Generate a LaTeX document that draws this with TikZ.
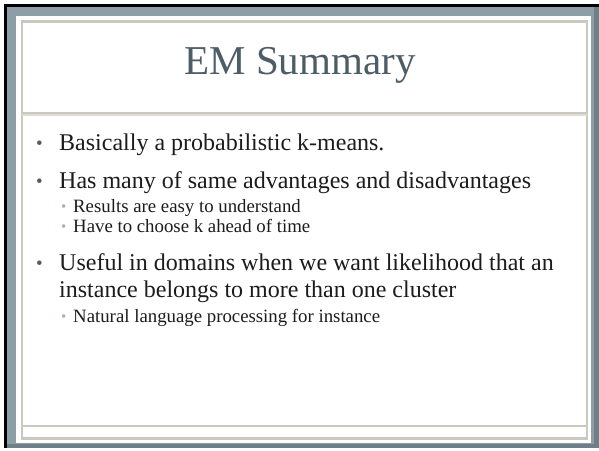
\documentclass[tikz,border=0pt]{standalone}
\usepackage{fontspec}
\setmainfont{Liberation Serif}
\definecolor{framegray}{HTML}{8D9EA7}
\definecolor{framedark}{HTML}{6E7F88}
\definecolor{rulebeige}{HTML}{C9C9BF}
\definecolor{rulelight}{HTML}{DCDCD4}
\definecolor{titlecol}{HTML}{4D5D68}
\definecolor{bodycol}{HTML}{1C1C1C}
\definecolor{subbullet}{HTML}{A3B2BA}
\tikzset{
  titletext/.style={font=\fontsize{41}{48}\selectfont, text=titlecol, inner sep=0pt},
  maintext/.style={font=\fontsize{24}{28}\selectfont, text=bodycol, anchor=base west, inner sep=0pt},
  subtext/.style={font=\fontsize{18.8}{22}\selectfont, text=bodycol, anchor=base west, inner sep=0pt},
  mainbullet/.style={font=\fontsize{19}{19}\selectfont, text=black!65, anchor=base west, inner sep=0pt},
  subbulletmark/.style={font=\fontsize{15}{15}\selectfont, text=subbullet, anchor=base west, inner sep=0pt},
}
\begin{document}
\begin{tikzpicture}[x=1pt,y=-1pt]
\useasboundingbox (0,0) rectangle (599,450);
\fill[white] (0,0) rectangle (599,450);
% outer blue-grey frame with a dark top/left edge
\fill[framegray] (6,6) rectangle (599,448);
\fill[framedark] (594,6) rectangle (599,448);
\fill[framedark] (6,444) rectangle (599,448);
\fill[black] (4,4) rectangle (599,6.5);
\fill[black] (4,4) rectangle (6.5,448);
% white inner panel
\fill[white] (16,16) rectangle (591,443);
% beige slide border and rules
\draw[rulebeige, line width=2.2pt] (22,21.5) rectangle (587,438.5);
\fill[rulebeige] (22,111.5) rectangle (587,114);
\fill[rulelight] (22,114) rectangle (587,116);
\fill[rulebeige] (22,424.5) rectangle (587,427);

% title
\node[titletext] (title) at (300,65) {EM Summary};

% bullets
\node[mainbullet] (b1) at (36,149) {•};
\node[maintext] (t1) at (59,150) {Basically a probabilistic k-means.};
\node[mainbullet] (b2) at (36,187) {•};
\node[maintext] (t2) at (59,188) {Has many of same advantages and disadvantages};
\node[subbulletmark] (s1) at (61,211) {•};
\node[subtext] (u1) at (73,212) {Results are easy to understand};
\node[subbulletmark] (s2) at (61,231) {•};
\node[subtext] (u2) at (73,232) {Have to choose k ahead of time};
\node[mainbullet] (b3) at (36,269) {•};
\node[maintext] (t3) at (59,270) {Useful in domains when we want likelihood that an};
\node[maintext] (t4) at (59,297) {instance belongs to more than one cluster};
\node[subbulletmark] (s3) at (61,321) {•};
\node[subtext] (u3) at (73,322) {Natural language processing for instance};
\end{tikzpicture}
\end{document}
